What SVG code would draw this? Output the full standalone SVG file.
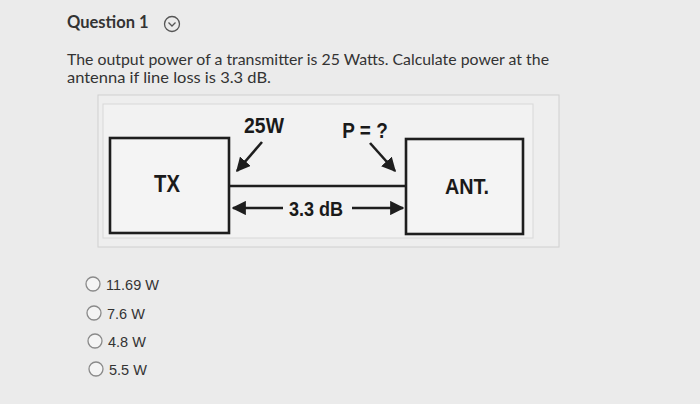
<svg xmlns="http://www.w3.org/2000/svg" width="700" height="404" viewBox="0 0 700 404">
<defs>
<style>
.q{font-family:"Lato","Open Sans","Liberation Sans",sans-serif;fill:#333;}
.o{font-family:"Liberation Sans",Arial,sans-serif;fill:#333;}
.d{font-family:"Liberation Sans",Arial,sans-serif;font-weight:bold;fill:#1a1a1a;}
.box{fill:#f4f4f4;stroke:#1e1e1e;stroke-width:2.6;}
.ln{stroke:#1e1e1e;stroke-width:2.6;fill:none;}
.rad{fill:#f4f4f4;stroke:#8a8a8a;stroke-width:1.3;}
</style>
<marker id="ah" viewBox="0 0 10 10" refX="9" refY="5" markerWidth="5.5" markerHeight="5.5" orient="auto-start-reverse" markerUnits="strokeWidth">
<path d="M0,0 L10,5 L0,10 z" fill="#1e1e1e"/>
</marker>
</defs>
<rect width="700" height="404" fill="#ebebeb"/>
<text class="q" x="67" y="28" font-size="16.5" font-weight="bold">Question 1</text>
<circle cx="172" cy="24" r="7.5" fill="none" stroke="#555" stroke-width="1.3"/>
<path d="M168.5,22.5 L172,26 L175.5,22.5" fill="none" stroke="#555" stroke-width="1.3"/>
<text class="q" x="67" y="64.5" font-size="15.2" textLength="482" lengthAdjust="spacingAndGlyphs">The output power of a transmitter is 25 Watts. Calculate power at the</text>
<text class="q" x="67" y="82.5" font-size="15.2" textLength="204" lengthAdjust="spacingAndGlyphs">antenna if line loss is 3.3 dB.</text>
<rect x="98" y="95" width="461" height="152" fill="#eeeeee" stroke="#d0d0d0" stroke-width="1"/>
<rect x="103" y="104" width="430" height="134" fill="#f2f2f2" stroke="#d8d8d8" stroke-width="1"/>
<g id="tx">
<rect class="box" x="110" y="138" width="119" height="95"/>
<text class="d" x="167" y="192" font-size="23" text-anchor="middle" transform="translate(167 0) scale(0.88 1) translate(-167 0)">TX</text>
</g>
<g id="ant">
<rect class="box" x="406" y="139" width="117" height="95"/>
<text class="d" x="467" y="194" font-size="22.5" text-anchor="middle" transform="translate(467 0) scale(0.88 1) translate(-467 0)">ANT.</text>
</g>
<g id="connectors">
<line class="ln" x1="283" y1="208" x2="233" y2="208" marker-end="url(#ah)"/>
<line class="ln" x1="229" y1="186" x2="406" y2="186"/>
<line class="ln" x1="352" y1="208" x2="403" y2="208" marker-end="url(#ah)"/>
<line class="ln" x1="262" y1="142" x2="237" y2="171" marker-end="url(#ah)"/>
<line class="ln" x1="370" y1="143" x2="395" y2="171" marker-end="url(#ah)"/>
</g>
<g id="labels">
<text class="d" x="264" y="133" font-size="22" text-anchor="middle" transform="translate(264 0) scale(0.88 1) translate(-264 0)">25W</text>
<text class="d" x="365" y="138" font-size="21.5" text-anchor="middle" transform="translate(365 0) scale(0.88 1) translate(-365 0)">P = ?</text>
<text class="d" x="316" y="216" font-size="20.5" text-anchor="middle" transform="translate(316 0) scale(0.88 1) translate(-316 0)">3.3 dB</text>
</g>
<g id="options">
<circle class="rad" cx="93" cy="284" r="7"/>
<text class="o" x="106" y="290" font-size="14.5">11.69 W</text>
<circle class="rad" cx="94" cy="313" r="7"/>
<text class="o" x="107" y="319" font-size="14.5">7.6 W</text>
<circle class="rad" cx="95" cy="341" r="7"/>
<text class="o" x="108" y="347" font-size="14.5">4.8 W</text>
<circle class="rad" cx="96" cy="369" r="7"/>
<text class="o" x="109" y="375" font-size="14.5">5.5 W</text>
</g>
</svg>
